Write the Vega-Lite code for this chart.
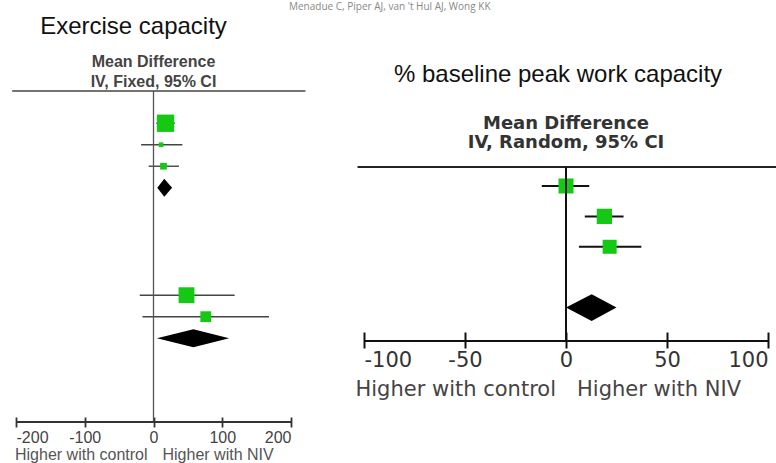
{
  "$schema": "https://vega.github.io/schema/vega-lite/v6.json",
  "background": "white",
  "padding": {"left": 11, "top": 2, "right": 0, "bottom": 0},
  "title": {"text": "Menadue C, Piper AJ, van 't Hul AJ, Wong KK", "font": "Open Sans", "fontSize": 10, "fontWeight": "normal", "color": "#888", "anchor": "middle", "frame": "bounds", "baseline": "bottom", "offset": -7.5, "dx": -5},
  "datasets": {
    "left_studies": [
      {"study": "L1", "row": 1, "md": 17.5, "lo": 4, "hi": 31, "weight": 81.7},
      {"study": "L2", "row": 2, "md": 11, "lo": -18, "hi": 42, "weight": 6.0},
      {"study": "L3", "row": 3, "md": 14.5, "lo": -7, "hi": 37, "weight": 12.3},
      {"study": "L4", "row": 9, "md": 48, "lo": -20, "hi": 118, "weight": 68.3},
      {"study": "L5", "row": 10, "md": 76, "lo": -16, "hi": 168, "weight": 31.7}
    ],
    "left_pooled": [
      {"id": "Subtotal 1", "row": 4, "lo": 5.5, "md": 15.7, "hi": 27},
      {"id": "Subtotal 2", "row": 11, "lo": 5, "md": 58, "hi": 110}
    ],
    "right_studies": [
      {"study": "R1", "row": 1, "md": 0, "lo": -12, "hi": 11.5, "weight": 34.4},
      {"study": "R2", "row": 2, "md": 19, "lo": 9.3, "hi": 28.5, "weight": 35.7},
      {"study": "R3", "row": 3, "md": 21.6, "lo": 6.4, "hi": 37.3, "weight": 29.9}
    ],
    "right_pooled": [
      {"id": "Total", "row": 5, "lo": 0, "md": 12.7, "hi": 25}
    ],
    "one": [{}]
  },
  "hconcat": [
    {
      "width": 275,
      "height": 331,
      "title": {"text": "Exercise capacity", "font": "Liberation Sans", "fontSize": 24, "fontWeight": "normal", "color": "#111", "anchor": "middle", "frame": "group", "dx": -20, "baseline": "bottom", "offset": -9},
      "resolve": {"scale": {"size": "independent"}},
      "layer": [
        {
          "data": {"name": "left_studies"},
          "mark": {"type": "rule", "color": "#444", "strokeWidth": 1.4},
          "encoding": {
            "x": {"field": "lo", "type": "quantitative", "title": null, "scale": {"domain": [-200, 200], "nice": false, "zero": false},
              "axis": {"values": [-200, -100, 0, 100, 200], "domain": false, "grid": false, "ticks": true, "tickSize": 10, "tickWidth": 1.8, "tickColor": "#333", "offset": -5, "labelFlush": true, "labelPadding": 2, "labelFont": "Liberation Sans", "labelFontSize": 16, "labelColor": "#444", "labelOverlap": false, "labelExpr": "'' + datum.value", "title": null}},
            "x2": {"field": "hi"},
            "y": {"field": "row", "type": "quantitative", "title": null, "axis": null, "scale": {"domain": [-0.5, 14.9], "reverse": true, "nice": false, "zero": false}}
          }
        },
        {
          "data": {"name": "left_studies"},
          "mark": {"type": "point", "shape": "square", "filled": true, "color": "#14c814", "opacity": 1, "strokeWidth": 0},
          "encoding": {
            "x": {"field": "md", "type": "quantitative", "title": null, "scale": {"domain": [-200, 200], "nice": false, "zero": false}},
            "y": {"field": "row", "type": "quantitative", "title": null, "axis": null, "scale": {"domain": [-0.5, 14.9], "reverse": true, "nice": false, "zero": false}},
            "size": {"field": "weight", "type": "quantitative", "scale": {"domain": [0, 100], "range": [0, 367]}, "legend": null}
          }
        },
        {
          "data": {"name": "left_pooled"},
          "transform": [
            {"fold": ["lo", "md", "hi"], "as": ["point", "value"]},
            {"calculate": "datum.point === 'md' ? datum.row - 0.42 : datum.row", "as": "top"},
            {"calculate": "datum.point === 'md' ? datum.row + 0.42 : datum.row", "as": "bottom"}
          ],
          "mark": {"type": "area", "color": "#000", "opacity": 1, "orient": "vertical"},
          "encoding": {
            "x": {"field": "value", "type": "quantitative", "title": null, "scale": {"domain": [-200, 200], "nice": false, "zero": false}},
            "y": {"field": "top", "type": "quantitative", "title": null, "axis": null, "scale": {"domain": [-0.5, 14.9], "reverse": true, "nice": false, "zero": false}},
            "y2": {"field": "bottom"},
            "detail": {"field": "id"}
          }
        },
        {
          "data": {"name": "one"},
          "mark": {"type": "rule", "color": "#444", "strokeWidth": 1.6},
          "encoding": {
            "x": {"datum": -205.5, "type": "quantitative", "title": null, "scale": {"domain": [-200, 200], "nice": false, "zero": false}},
            "x2": {"datum": 221},
            "y": {"datum": -0.5, "type": "quantitative", "title": null, "axis": null, "scale": {"domain": [-0.5, 14.9], "reverse": true, "nice": false, "zero": false}}
          }
        },
        {
          "data": {"name": "one"},
          "mark": {"type": "rule", "color": "#555", "strokeWidth": 1.3},
          "encoding": {
            "x": {"datum": 0, "type": "quantitative", "title": null, "scale": {"domain": [-200, 200], "nice": false, "zero": false}},
            "y": {"datum": -0.5, "type": "quantitative", "title": null, "axis": null, "scale": {"domain": [-0.5, 14.9], "reverse": true, "nice": false, "zero": false}},
            "y2": {"datum": 14.9}
          }
        },
        {
          "data": {"name": "one"},
          "mark": {"type": "rule", "color": "#333", "strokeWidth": 2},
          "encoding": {
            "x": {"datum": -200, "type": "quantitative", "title": null, "scale": {"domain": [-200, 200], "nice": false, "zero": false}},
            "x2": {"datum": 200},
            "y": {"datum": 14.9, "type": "quantitative", "title": null, "axis": null, "scale": {"domain": [-0.5, 14.9], "reverse": true, "nice": false, "zero": false}}
          }
        },
        {
          "data": {"name": "one"},
          "mark": {"type": "text", "align": "center", "baseline": "bottom", "dy": -21.5, "lineHeight": 20.5, "font": "Liberation Sans", "fontSize": 16, "fontWeight": "bold", "color": "#444"},
          "encoding": {
            "x": {"datum": 0, "type": "quantitative", "title": null, "scale": {"domain": [-200, 200], "nice": false, "zero": false}},
            "y": {"datum": -0.5, "type": "quantitative", "title": null, "axis": null, "scale": {"domain": [-0.5, 14.9], "reverse": true, "nice": false, "zero": false}},
            "text": {"value": ["Mean Difference", "IV, Fixed, 95% CI"]}
          }
        },
        {
          "data": {"name": "one"},
          "mark": {"type": "text", "align": "right", "baseline": "alphabetic", "dx": -6, "dy": 38, "font": "Liberation Sans", "fontSize": 16, "color": "#555"},
          "encoding": {
            "x": {"datum": 0, "type": "quantitative", "title": null, "scale": {"domain": [-200, 200], "nice": false, "zero": false}},
            "y": {"datum": 14.9, "type": "quantitative", "title": null, "axis": null, "scale": {"domain": [-0.5, 14.9], "reverse": true, "nice": false, "zero": false}},
            "text": {"value": "Higher with control"}
          }
        },
        {
          "data": {"name": "one"},
          "mark": {"type": "text", "align": "left", "baseline": "alphabetic", "dx": 9, "dy": 38, "font": "Liberation Sans", "fontSize": 16, "color": "#555"},
          "encoding": {
            "x": {"datum": 0, "type": "quantitative", "title": null, "scale": {"domain": [-200, 200], "nice": false, "zero": false}},
            "y": {"datum": 14.9, "type": "quantitative", "title": null, "axis": null, "scale": {"domain": [-0.5, 14.9], "reverse": true, "nice": false, "zero": false}},
            "text": {"value": "Higher with NIV"}
          }
        }
      ]
    },
    {
      "width": 404,
      "height": 250,
      "title": {"text": "% baseline peak work capacity", "font": "Liberation Sans", "fontSize": 24, "fontWeight": "normal", "color": "#111", "anchor": "middle", "frame": "group", "dx": -8, "baseline": "bottom", "offset": -20},
      "resolve": {"scale": {"size": "independent"}},
      "layer": [
        {
          "data": {"name": "right_studies"},
          "mark": {"type": "rule", "color": "#111", "strokeWidth": 2},
          "encoding": {
            "x": {"field": "lo", "type": "quantitative", "title": null, "scale": {"domain": [-100, 100], "nice": false, "zero": false},
              "axis": {"values": [-100, -50, 0, 50, 100], "domain": false, "grid": false, "ticks": true, "tickSize": 16, "tickWidth": 2, "tickColor": "#111", "offset": -9, "labelFlush": true, "labelPadding": 1, "labelFont": "DejaVu Sans", "labelFontSize": 21, "labelColor": "#333", "labelOverlap": false, "labelExpr": "'' + datum.value", "title": null}},
            "x2": {"field": "hi"},
            "y": {"field": "row", "type": "quantitative", "title": null, "axis": null, "scale": {"domain": [-2.125, 6.1], "reverse": true, "nice": false, "zero": false}}
          }
        },
        {
          "data": {"name": "right_studies"},
          "mark": {"type": "point", "shape": "square", "filled": true, "color": "#14c814", "opacity": 1, "strokeWidth": 0},
          "encoding": {
            "x": {"field": "md", "type": "quantitative", "title": null, "scale": {"domain": [-100, 100], "nice": false, "zero": false}},
            "y": {"field": "row", "type": "quantitative", "title": null, "axis": null, "scale": {"domain": [-2.125, 6.1], "reverse": true, "nice": false, "zero": false}},
            "size": {"field": "weight", "type": "quantitative", "scale": {"domain": [0, 100], "range": [0, 655]}, "legend": null}
          }
        },
        {
          "data": {"name": "right_pooled"},
          "transform": [
            {"fold": ["lo", "md", "hi"], "as": ["point", "value"]},
            {"calculate": "datum.point === 'md' ? datum.row - 0.44 : datum.row", "as": "top"},
            {"calculate": "datum.point === 'md' ? datum.row + 0.44 : datum.row", "as": "bottom"}
          ],
          "mark": {"type": "area", "color": "#000", "opacity": 1, "orient": "vertical"},
          "encoding": {
            "x": {"field": "value", "type": "quantitative", "title": null, "scale": {"domain": [-100, 100], "nice": false, "zero": false}},
            "y": {"field": "top", "type": "quantitative", "title": null, "axis": null, "scale": {"domain": [-2.125, 6.1], "reverse": true, "nice": false, "zero": false}},
            "y2": {"field": "bottom"},
            "detail": {"field": "id"}
          }
        },
        {
          "data": {"name": "one"},
          "mark": {"type": "rule", "color": "#222", "strokeWidth": 2},
          "encoding": {
            "x": {"datum": -103.2, "type": "quantitative", "title": null, "scale": {"domain": [-100, 100], "nice": false, "zero": false}},
            "x2": {"datum": 104.5},
            "y": {"datum": 0.375, "type": "quantitative", "title": null, "axis": null, "scale": {"domain": [-2.125, 6.1], "reverse": true, "nice": false, "zero": false}}
          }
        },
        {
          "data": {"name": "one"},
          "mark": {"type": "rule", "color": "#111", "strokeWidth": 2},
          "encoding": {
            "x": {"datum": 0, "type": "quantitative", "title": null, "scale": {"domain": [-100, 100], "nice": false, "zero": false}},
            "y": {"datum": 0.375, "type": "quantitative", "title": null, "axis": null, "scale": {"domain": [-2.125, 6.1], "reverse": true, "nice": false, "zero": false}},
            "y2": {"datum": 6.1}
          }
        },
        {
          "data": {"name": "one"},
          "mark": {"type": "rule", "color": "#111", "strokeWidth": 2.2},
          "encoding": {
            "x": {"datum": -100, "type": "quantitative", "title": null, "scale": {"domain": [-100, 100], "nice": false, "zero": false}},
            "x2": {"datum": 100},
            "y": {"datum": 6.1, "type": "quantitative", "title": null, "axis": null, "scale": {"domain": [-2.125, 6.1], "reverse": true, "nice": false, "zero": false}}
          }
        },
        {
          "data": {"name": "one"},
          "mark": {"type": "text", "align": "center", "baseline": "bottom", "dy": -34, "lineHeight": 19.5, "font": "DejaVu Sans", "fontSize": 18, "fontWeight": "bold", "color": "#333"},
          "encoding": {
            "x": {"datum": 0, "type": "quantitative", "title": null, "scale": {"domain": [-100, 100], "nice": false, "zero": false}},
            "y": {"datum": 0.375, "type": "quantitative", "title": null, "axis": null, "scale": {"domain": [-2.125, 6.1], "reverse": true, "nice": false, "zero": false}},
            "text": {"value": ["Mean Difference", "IV, Random, 95% CI"]}
          }
        },
        {
          "data": {"name": "one"},
          "mark": {"type": "text", "align": "right", "baseline": "alphabetic", "dx": -10, "dy": 55, "font": "DejaVu Sans", "fontSize": 21, "color": "#444"},
          "encoding": {
            "x": {"datum": 0, "type": "quantitative", "title": null, "scale": {"domain": [-100, 100], "nice": false, "zero": false}},
            "y": {"datum": 6.1, "type": "quantitative", "title": null, "axis": null, "scale": {"domain": [-2.125, 6.1], "reverse": true, "nice": false, "zero": false}},
            "text": {"value": "Higher with control"}
          }
        },
        {
          "data": {"name": "one"},
          "mark": {"type": "text", "align": "left", "baseline": "alphabetic", "dx": 11, "dy": 55, "font": "DejaVu Sans", "fontSize": 21, "color": "#444"},
          "encoding": {
            "x": {"datum": 0, "type": "quantitative", "title": null, "scale": {"domain": [-100, 100], "nice": false, "zero": false}},
            "y": {"datum": 6.1, "type": "quantitative", "title": null, "axis": null, "scale": {"domain": [-2.125, 6.1], "reverse": true, "nice": false, "zero": false}},
            "text": {"value": "Higher with NIV"}
          }
        }
      ]
    }
  ],
  "spacing": 73,
  "bounds": "flush",
  "resolve": {"scale": {"x": "independent", "y": "independent", "size": "independent"}},
  "config": {"view": {"stroke": null}, "font": "Liberation Sans"}
}
